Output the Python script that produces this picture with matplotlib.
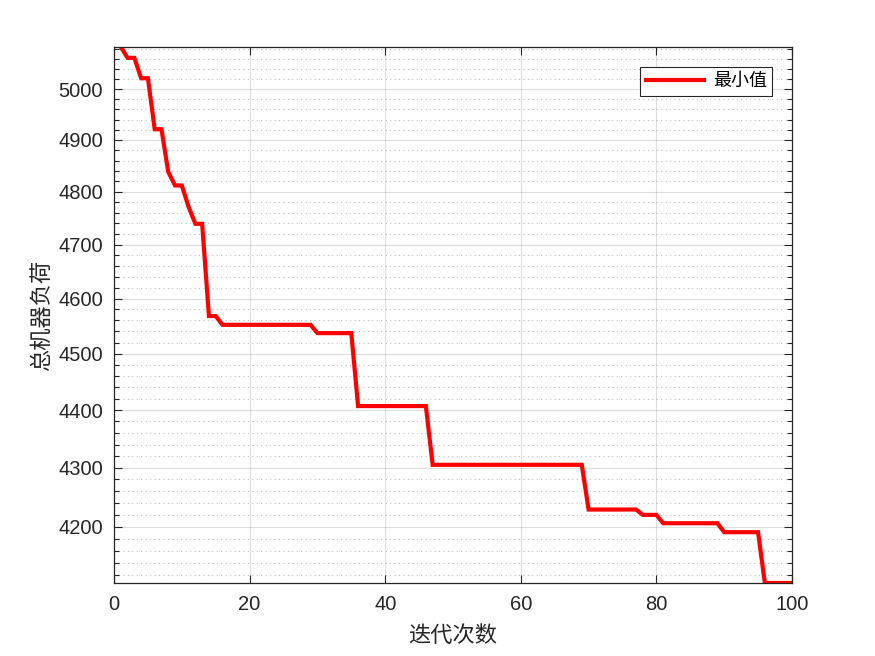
import matplotlib
matplotlib.use("Agg")
import matplotlib.pyplot as plt
from matplotlib.ticker import FixedLocator, FuncFormatter, NullFormatter
import numpy as np

# ---- data ----
iterations = list(range(1, 101))
min_values = ([5085, 5063, 5063, 5022, 5022, 4921, 4921, 4838, 4812, 4812,
               4771, 4739, 4739, 4568, 4568]
              + [4552] * 14      # 16-29
              + [4537] * 6       # 30-35
              + [4407] * 11      # 36-46
              + [4305] * 23      # 47-69
              + [4229] * 8       # 70-77
              + [4220] * 3       # 78-80
              + [4206] * 9       # 81-89
              + [4191] * 6       # 90-95
              + [4107] * 5)      # 96-100
x_ticks = [0, 20, 40, 60, 80, 100]
y_ticks = [4200, 4300, 4400, 4500, 4600, 4700, 4800, 4900, 5000]
legend_label = "最小值"
x_label = "迭代次数"
y_label = "总机器负荷"

cjk = ["Noto Sans CJK SC", "DejaVu Sans"]
txt_color = (0.15, 0.15, 0.15)

fig = plt.figure(figsize=(8.75, 6.56), dpi=100)
ax = fig.add_axes([0.1303, 0.1113, 0.7748, 0.8171])

ax.plot(iterations, min_values, color=(1, 0, 0), lw=3.0, label=legend_label,
        solid_joinstyle="miter")

ax.set_yscale("log")
ax.set_xlim(0, 100)
ax.set_ylim(min(min_values), max(min_values))

ax.xaxis.set_major_locator(FixedLocator(x_ticks))
ax.yaxis.set_major_locator(FixedLocator(y_ticks))
minor_y = [v for v in range(4100, 5100, 20) if v % 100 != 0]
ax.yaxis.set_minor_locator(FixedLocator(minor_y))
ax.yaxis.set_major_formatter(FuncFormatter(lambda v, p: f"{v:.0f}"))
ax.yaxis.set_minor_formatter(NullFormatter())
ax.xaxis.set_minor_locator(FixedLocator([]))

ax.tick_params(which="both", direction="in", top=True, right=True,
               colors=txt_color, labelsize=14.5, width=0.8)
ax.tick_params(which="major", length=6)
ax.tick_params(which="minor", length=3.5)
ax.tick_params(axis="x", which="major", pad=9)
ax.tick_params(axis="y", which="major", pad=8)
for lab in ax.get_xticklabels() + ax.get_yticklabels():
    lab.set_family("Liberation Sans")

ax.grid(True, which="major", color=(0.15, 0.15, 0.15), alpha=0.15, lw=0.8)
ax.grid(True, which="minor", axis="y", color=(0.15, 0.15, 0.15), alpha=0.3,
        lw=0.8, linestyle=(0, (1, 3)))
ax.set_axisbelow(True)

for s in ax.spines.values():
    s.set_color(txt_color)
    s.set_linewidth(0.9)

ax.set_xlabel(x_label, family=cjk, fontsize=16, color=txt_color, labelpad=7)
ax.set_ylabel(y_label, family=cjk, fontsize=16, color=txt_color, labelpad=4)

leg = ax.legend(loc="upper right", prop={"family": cjk, "size": 13},
                frameon=True, fancybox=False, framealpha=1, edgecolor=txt_color,
                handlelength=3.2, borderaxespad=1.1, borderpad=0.3,
                handletextpad=0.5)
leg.get_frame().set_linewidth(0.8)

fig.savefig("out.png", dpi=100)
